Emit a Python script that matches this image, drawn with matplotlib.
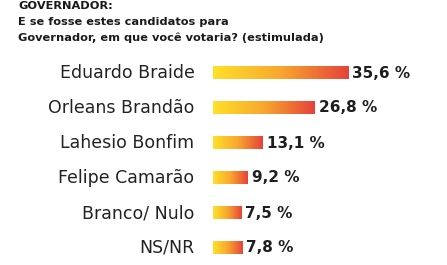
import numpy as np
import matplotlib
matplotlib.use("Agg")
import matplotlib.pyplot as plt
from matplotlib.colors import LinearSegmentedColormap

categories = ["Eduardo Braide", "Orleans Brandão", "Lahesio Bonfim",
              "Felipe Camarão", "Branco/ Nulo", "NS/NR"]
values = [35.6, 26.8, 13.1, 9.2, 7.5, 7.8]
value_labels = ["35,6 %", "26,8 %", "13,1 %", "9,2 %", "7,5 %", "7,8 %"]
title_lines = ["GOVERNADOR:",
               "E se fosse estes candidatos para",
               "Governador, em que você votaria? (estimulada)"]

W, H = 447, 265
fig = plt.figure(figsize=(W / 100, H / 100), dpi=100)
fig.patch.set_facecolor("white")

x0 = 213
ppu = 3.8
ax = fig.add_axes([x0 / W, -0.5 / H, 1 - x0 / W, 210 / H])
ax.set_xlim(0, (W - x0) / ppu)
ax.set_ylim(5.5, -0.5)
ax.axis("off")

cmap = LinearSegmentedColormap.from_list("yr", ["#FFE02A", "#F7A72E", "#E6423A"])
grad = np.linspace(0, 1, 256).reshape(1, -1)
h = 0.18
font = "DejaVu Sans"
for i, (c, v, lab) in enumerate(zip(categories, values, value_labels)):
    ax.imshow(grad, cmap=cmap, aspect="auto", extent=[0, v, i + h, i - h],
              interpolation="bilinear")
    ax.text(v + 1.0, i, lab, ha="left", va="center", fontsize=11,
            fontweight="bold", color="#1e1e1e", family=font)
    ax.text(-4.9, i, c, ha="right", va="center", fontsize=12.5,
            color="#222222", family=font)
ax.set_xlim(0, (W - x0) / ppu)
ax.set_ylim(5.5, -0.5)

for k, t in enumerate(title_lines):
    fig.text(18 / W, 1 - (6 + 16 * k) / H, t, ha="left", va="center",
             fontsize=8.2, fontweight="bold", color="#1a1a1a", family=font)

fig.savefig("out.png", dpi=100, facecolor="white")
